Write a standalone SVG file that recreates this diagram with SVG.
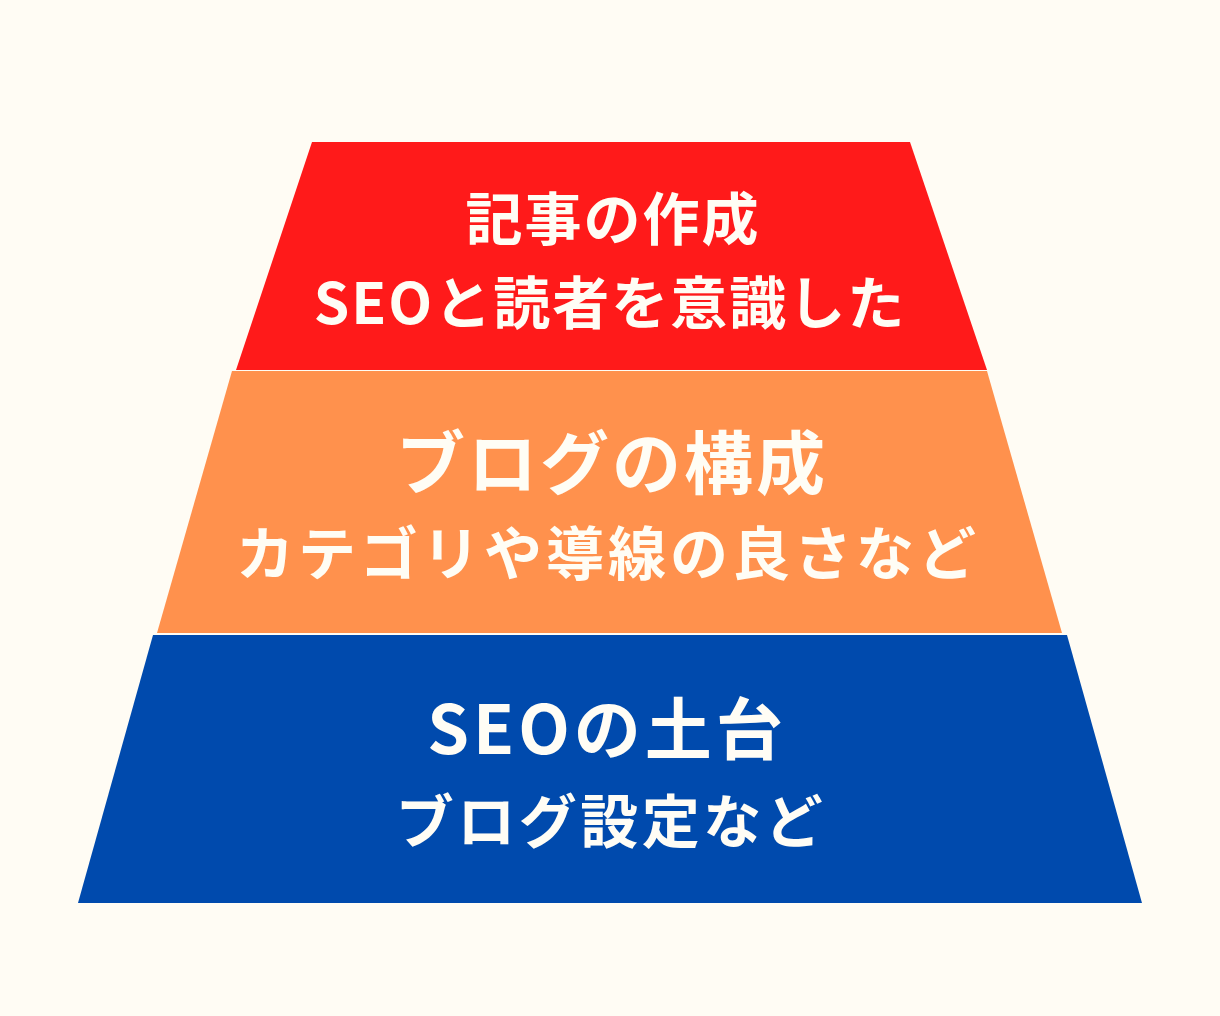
<svg xmlns="http://www.w3.org/2000/svg" width="1220" height="1016" viewBox="0 0 1220 1016">
<style>
.t{font-family:"Noto Sans CJK JP","Noto Sans",sans-serif;font-weight:700;fill:#FFFDF5;text-anchor:middle;dominant-baseline:central}
</style>
<rect width="1220" height="1016" fill="#FFFCF4"/>
<g id="tier-top">
<polygon points="312,142 910,142 987,370 236,370" fill="#FF1A1A"/>
<text class="t" x="613" y="215" font-size="57" letter-spacing="2">記事の作成</text>
<text class="t" x="610" y="299" font-size="57" letter-spacing="2">SEOと読者を意識した</text>
</g>
<g id="tier-middle">
<polygon points="232,371 987,371 1062,633 157,633" fill="#FF914D"/>
<text class="t" x="612" y="459" font-size="69" letter-spacing="3">ブログの構成</text>
<text class="t" x="608" y="550" font-size="58" letter-spacing="4">カテゴリや導線の良さなど</text>
</g>
<g id="tier-bottom">
<polygon points="153,635 1067,635 1142,903 78,903" fill="#004AAD"/>
<text class="t" x="607" y="724" font-size="67" letter-spacing="4">SEOの土台</text>
<text class="t" x="611" y="818" font-size="58" letter-spacing="3.5">ブログ設定など</text>
</g>
<g id="connectors"/>
</svg>
